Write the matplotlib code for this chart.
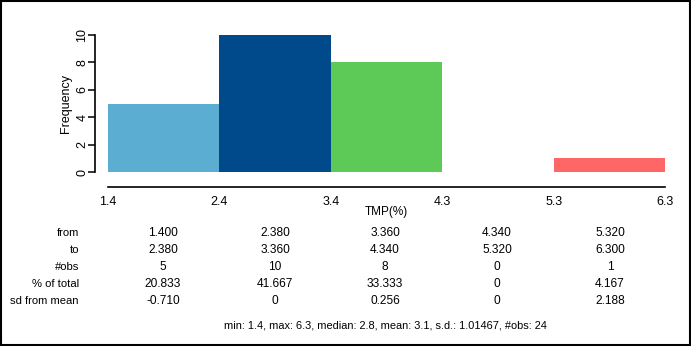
import matplotlib
matplotlib.use("Agg")
import matplotlib.pyplot as plt
from matplotlib.patches import Rectangle

plt.rcParams['font.family'] = ['Liberation Sans', 'DejaVu Sans']

# histogram of TMP(%)
bin_from = [1.400, 2.380, 3.360, 4.340, 5.320]
bin_to = [2.380, 3.360, 4.340, 5.320, 6.300]
counts = [5, 10, 8, 0, 1]
pct_total = ["20.833", "41.667", "33.333", "0", "4.167"]
sd_from_mean = ["-0.710", "0", "0.256", "0", "2.188"]
bar_colors = ["#5BAED1", "#004A8B", "#5DC957", "#5DC957", "#FF6666"]
xtick_vals = [1.4, 2.38, 3.36, 4.34, 5.32, 6.3]
xtick_text = ["1.4", "2.4", "3.4", "4.3", "5.3", "6.3"]
summary = "min: 1.4, max: 6.3, median: 2.8, mean: 3.1, s.d.: 1.01467, #obs: 24"

W, H = 691, 346
fig = plt.figure(figsize=(W / 100, H / 100), dpi=100)
fig.patch.set_facecolor("white")

ax = fig.add_axes([108 / W, 174 / H, (665 - 108) / W, (311 - 174) / H])
widths = [b - a for a, b in zip(bin_from, bin_to)]
ax.bar(bin_from, counts, width=widths, align="edge", color=bar_colors, linewidth=0)
ax.set_xlim(bin_from[0], bin_to[-1])
ax.set_ylim(0, 10)

for s in ["top", "right"]:
    ax.spines[s].set_visible(False)
ax.spines["left"].set_position(("outward", 9))
ax.spines["left"].set_bounds(0, 10)
ax.spines["bottom"].set_position(("outward", 11))
ax.spines["left"].set_linewidth(1.2)
ax.spines["bottom"].set_linewidth(1.2)

ax.set_yticks([0, 2, 4, 6, 8, 10])
ax.tick_params(axis="y", length=5, width=1.1, labelsize=9, pad=0, labelrotation=90)
for lbl in ax.get_yticklabels():
    lbl.set_va("center")
ax.set_xticks(xtick_vals)
ax.set_xticklabels(xtick_text)
ax.tick_params(axis="x", length=0, labelsize=9, pad=6)
ax.set_ylabel("Frequency", fontsize=9, labelpad=3)
ax.set_xlabel("TMP(%)", fontsize=8.5, labelpad=-1)

# summary table under the plot
col_x = [163, 275, 385, 497, 610]
rows = [
    ("from", ["%.3f" % v for v in bin_from], 233),
    ("to", ["%.3f" % v for v in bin_to], 250),
    ("#obs", [str(c) for c in counts], 267),
    ("% of total", pct_total, 284),
    ("sd from mean", sd_from_mean, 301),
]
for name, vals, y in rows:
    fig.text(79 / W, 1 - y / H, name, ha="right", va="center", fontsize=8.1)
    for x, v in zip(col_x, vals):
        fig.text(x / W, 1 - y / H, v, ha="center", va="center", fontsize=8.6)
fig.text(385 / W, 1 - 325 / H, summary, ha="center", va="center", fontsize=7.9)

fig.add_artist(Rectangle((0.001, 0.002), 0.997, 0.995, transform=fig.transFigure,
                         fill=False, edgecolor="black", linewidth=1.5))

fig.savefig("out.png", dpi=100)
